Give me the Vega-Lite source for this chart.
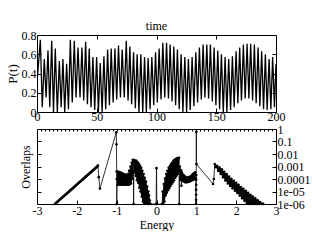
{
  "$schema": "https://vega.github.io/schema/vega-lite/v6.json",
  "background": "white",
  "padding": {"left": 5, "top": 19, "right": 0, "bottom": 0},
  "spacing": -1,
  "config": {
    "font": "Liberation Serif",
    "view": {"stroke": "black", "strokeWidth": 1},
    "axis": {"domain": false, "grid": false, "labelFlush": false, "labelFont": "Liberation Serif", "titleFont": "Liberation Serif", "labelFontSize": 12, "titleFontSize": 12, "titleFontWeight": "normal", "labelColor": "black", "titleColor": "black", "tickColor": "black", "tickSize": -4, "labelPadding": 5}
  },
  "datasets": {
    "pt": [
      {"t":0,"p":0.30},{"t":2.8,"p":0.75},{"t":4.4,"p":0.05},{"t":6.1,"p":0.55},{"t":7.6,"p":0.15},{"t":9.2,"p":0.64},{"t":10.7,"p":0.05},{"t":12.3,"p":0.74},{"t":13.8,"p":0.0},{"t":15.3,"p":0.66},{"t":17.0,"p":0.0},{"t":18.7,"p":0.53},{"t":20.2,"p":0.05},{"t":21.7,"p":0.55},{"t":23.2,"p":0.0},{"t":24.8,"p":0.50},{"t":26.3,"p":0.03},{"t":27.9,"p":0.75},{"t":29.5,"p":0.10},{"t":31.2,"p":0.74},{"t":32.7,"p":0.15},{"t":34.3,"p":0.67},{"t":36.0,"p":0.15},{"t":37.6,"p":0.67},{"t":39.1,"p":0.12},{"t":40.7,"p":0.73},{"t":42.2,"p":0.08},{"t":43.7,"p":0.66},{"t":45.2,"p":0.05},{"t":46.8,"p":0.57},{"t":48.3,"p":0.02},{"t":49.9,"p":0.57},{"t":51.4,"p":0.0},{"t":52.9,"p":0.51},{"t":54.5,"p":0.0},{"t":56.0,"p":0.58},{"t":57.5,"p":0.03},{"t":59.1,"p":0.65},{"t":60.6,"p":0.07},{"t":62.1,"p":0.66},{"t":63.7,"p":0.10},{"t":65.2,"p":0.66},{"t":66.7,"p":0.13},{"t":68.2,"p":0.69},{"t":69.8,"p":0.15},{"t":71.3,"p":0.65},{"t":73.0,"p":0.15},{"t":74.7,"p":0.74},{"t":76.2,"p":0.12},{"t":77.7,"p":0.68},{"t":79.2,"p":0.08},{"t":80.8,"p":0.62},{"t":82.3,"p":0.04},{"t":83.8,"p":0.60},{"t":85.3,"p":0.0},{"t":86.9,"p":0.60},{"t":88.5,"p":0.0},{"t":90.0,"p":0.57},{"t":91.5,"p":0.0},{"t":93.0,"p":0.56},{"t":94.6,"p":0.03},{"t":96.1,"p":0.57},{"t":97.7,"p":0.07},{"t":99.2,"p":0.62},{"t":100.7,"p":0.10},{"t":102.2,"p":0.66},{"t":103.8,"p":0.13},{"t":105.3,"p":0.72},{"t":106.9,"p":0.15},{"t":108.4,"p":0.72},{"t":110.0,"p":0.14},{"t":111.4,"p":0.70},{"t":113.0,"p":0.11},{"t":114.5,"p":0.68},{"t":116.0,"p":0.07},{"t":117.5,"p":0.65},{"t":119.0,"p":0.03},{"t":120.6,"p":0.60},{"t":122.1,"p":0.0},{"t":123.7,"p":0.57},{"t":125.2,"p":0.0},{"t":126.7,"p":0.55},{"t":128.2,"p":0.02},{"t":129.8,"p":0.57},{"t":131.3,"p":0.06},{"t":132.9,"p":0.62},{"t":134.4,"p":0.10},{"t":135.9,"p":0.67},{"t":137.5,"p":0.13},{"t":139.0,"p":0.70},{"t":140.5,"p":0.15},{"t":142.1,"p":0.70},{"t":143.6,"p":0.14},{"t":145.1,"p":0.70},{"t":146.7,"p":0.11},{"t":148.2,"p":0.67},{"t":149.7,"p":0.07},{"t":151.3,"p":0.64},{"t":152.8,"p":0.03},{"t":154.3,"p":0.60},{"t":155.9,"p":0.0},{"t":157.4,"p":0.57},{"t":158.9,"p":0.0},{"t":160.4,"p":0.55},{"t":162.0,"p":0.02},{"t":163.5,"p":0.58},{"t":165.0,"p":0.05},{"t":166.6,"p":0.63},{"t":168.1,"p":0.09},{"t":169.6,"p":0.67},{"t":171.1,"p":0.12},{"t":172.7,"p":0.70},{"t":174.2,"p":0.14},{"t":175.8,"p":0.71},{"t":177.3,"p":0.14},{"t":178.8,"p":0.71},{"t":180.4,"p":0.12},{"t":181.9,"p":0.70},{"t":183.4,"p":0.09},{"t":185.0,"p":0.67},{"t":186.5,"p":0.06},{"t":188.0,"p":0.63},{"t":189.6,"p":0.03},{"t":191.1,"p":0.60},{"t":192.6,"p":0.02},{"t":194.2,"p":0.55},{"t":195.7,"p":0.03},{"t":197.2,"p":0.57},{"t":198.7,"p":0.05},{"t":200,"p":0.50}
    ],
    "band": [
      {"g":"A","E":-2.55,"hi":1.32e-6,"lo":1e-6},{"g":"A","E":-2.2,"hi":1.28e-5,"lo":7.4e-6},{"g":"A","E":-1.85,"hi":1.24e-4,"lo":7.1e-5},{"g":"A","E":-1.5,"hi":1.2e-3,"lo":6.9e-4},{"g":"A","E":-1.47,"hi":1.5e-3,"lo":9.1e-4},
      {"g":"B","E":-0.985,"hi":4.0e-4,"lo":3.5e-5},{"g":"B","E":-0.9,"hi":3.2e-4,"lo":3.5e-5},{"g":"B","E":-0.8,"hi":2.4e-4,"lo":3.5e-5},{"g":"B","E":-0.745,"hi":2.1e-4,"lo":3.5e-5},{"g":"B","E":-0.7,"hi":3.0e-4,"lo":3.5e-5},{"g":"B","E":-0.655,"hi":1.0e-3,"lo":4.0e-5},{"g":"B","E":-0.625,"hi":2.0e-3,"lo":6e-5},{"g":"B","E":-0.595,"hi":3.4e-3,"lo":2e-4},{"g":"B","E":-0.575,"hi":3.2e-3,"lo":4e-4},
      {"g":"C","E":-0.565,"hi":3.2e-3,"lo":5e-4},{"g":"C","E":-0.505,"hi":2.8e-3,"lo":1.3e-4},{"g":"C","E":-0.445,"hi":1.66e-3,"lo":3e-5},{"g":"C","E":-0.385,"hi":7.9e-4,"lo":5e-6},{"g":"C","E":-0.325,"hi":2.5e-4,"lo":1e-6},{"g":"C","E":-0.265,"hi":6.3e-5,"lo":1e-6},{"g":"C","E":-0.205,"hi":1e-5,"lo":1e-6},{"g":"C","E":-0.15,"hi":1e-6,"lo":1e-6},
      {"g":"D","E":0.14,"hi":1e-6,"lo":1e-6},{"g":"D","E":0.185,"hi":4e-5,"lo":1e-6},{"g":"D","E":0.245,"hi":2.5e-4,"lo":6e-6},{"g":"D","E":0.305,"hi":7.9e-4,"lo":1.5e-5},{"g":"D","E":0.365,"hi":1.6e-3,"lo":3.5e-5},{"g":"D","E":0.425,"hi":2.8e-3,"lo":6.5e-5},{"g":"D","E":0.485,"hi":4.0e-3,"lo":1.5e-4},{"g":"D","E":0.545,"hi":4.8e-3,"lo":3.2e-4},{"g":"D","E":0.565,"hi":5.0e-3,"lo":4.0e-4},
      {"g":"E","E":0.585,"hi":1.0e-3,"lo":8.7e-5},{"g":"E","E":0.64,"hi":3.2e-4,"lo":7e-5},{"g":"E","E":0.73,"hi":1.4e-4,"lo":5.6e-5},{"g":"E","E":0.82,"hi":1.4e-4,"lo":6.2e-5},{"g":"E","E":0.91,"hi":2.4e-4,"lo":8.5e-5},{"g":"E","E":0.97,"hi":3.5e-4,"lo":1.1e-4},
      {"g":"F","E":1.46,"hi":1.55e-3,"lo":1.26e-3},{"g":"F","E":1.53,"hi":1.1e-3,"lo":5.4e-4},{"g":"F","E":1.61,"hi":7.4e-4,"lo":2.45e-4},{"g":"F","E":1.78,"hi":2.1e-4,"lo":4.7e-5},{"g":"F","E":1.86,"hi":1.17e-4,"lo":2.6e-5},{"g":"F","E":2.03,"hi":4.2e-5,"lo":7.6e-6},{"g":"F","E":2.11,"hi":2.5e-5,"lo":4.0e-6},{"g":"F","E":2.28,"hi":8.9e-6,"lo":1e-6},{"g":"F","E":2.36,"hi":5.5e-6,"lo":1e-6},{"g":"F","E":2.61,"hi":1.35e-6,"lo":1e-6},{"g":"F","E":2.68,"hi":1e-6,"lo":1e-6}
    ],
    "ov": [
      {"E":-2.55,"ov":1.0e-6},{"E":-2.525,"ov":1.17e-6},{"E":-2.5,"ov":1.38e-6},{"E":-2.475,"ov":1.63e-6},{"E":-2.45,"ov":1.91e-6},{"E":-2.425,"ov":2.25e-6},{"E":-2.4,"ov":2.65e-6},{"E":-2.375,"ov":3.1e-6},{"E":-2.35,"ov":3.66e-6},{"E":-2.325,"ov":4.3e-6},{"E":-2.3,"ov":5.1e-6},{"E":-2.275,"ov":5.97e-6},{"E":-2.25,"ov":7.0e-6},{"E":-2.225,"ov":8.25e-6},{"E":-2.2,"ov":9.7e-6},{"E":-2.175,"ov":1.14e-5},{"E":-2.15,"ov":1.34e-5},{"E":-2.125,"ov":1.58e-5},{"E":-2.1,"ov":1.86e-5},{"E":-2.075,"ov":2.19e-5},{"E":-2.05,"ov":2.57e-5},{"E":-2.025,"ov":3.0e-5},{"E":-2.0,"ov":3.56e-5},{"E":-1.975,"ov":4.2e-5},{"E":-1.95,"ov":4.9e-5},{"E":-1.925,"ov":5.8e-5},{"E":-1.9,"ov":6.8e-5},{"E":-1.875,"ov":8.0e-5},{"E":-1.85,"ov":9.4e-5},{"E":-1.825,"ov":1.1e-4},{"E":-1.8,"ov":1.3e-4},{"E":-1.775,"ov":1.53e-4},{"E":-1.75,"ov":1.8e-4},{"E":-1.725,"ov":2.12e-4},{"E":-1.7,"ov":2.5e-4},{"E":-1.675,"ov":2.93e-4},{"E":-1.65,"ov":3.45e-4},{"E":-1.625,"ov":4.06e-4},{"E":-1.6,"ov":4.77e-4},{"E":-1.575,"ov":5.6e-4},{"E":-1.55,"ov":6.6e-4},{"E":-1.525,"ov":7.8e-4},{"E":-1.5,"ov":9.1e-4},{"E":-1.485,"ov":1.0e-3},{"E":-1.47,"ov":1.2e-3},{"E":-1.45,"ov":1.4e-4},{"E":-1.42,"ov":1.7e-5},
      {"E":-1.01,"ov":0.54},{"E":-1.005,"ov":0.06},{"E":-1.0,"ov":4e-4},{"E":-0.999,"ov":1e-4},{"E":-0.998,"ov":1e-6},
      {"E":-0.985,"ov":4.0e-4},{"E":-0.97,"ov":3.5e-5},{"E":-0.955,"ov":3.8e-4},{"E":-0.94,"ov":3.5e-5},{"E":-0.925,"ov":3.5e-4},{"E":-0.91,"ov":3.5e-5},{"E":-0.895,"ov":3.2e-4},{"E":-0.88,"ov":3.5e-5},{"E":-0.865,"ov":2.9e-4},{"E":-0.85,"ov":3.5e-5},{"E":-0.835,"ov":2.6e-4},{"E":-0.82,"ov":3.5e-5},{"E":-0.805,"ov":2.4e-4},{"E":-0.79,"ov":3.5e-5},{"E":-0.775,"ov":2.2e-4},{"E":-0.76,"ov":3.5e-5},{"E":-0.745,"ov":2.1e-4},{"E":-0.73,"ov":3.5e-5},{"E":-0.715,"ov":2.5e-4},{"E":-0.7,"ov":3.5e-5},{"E":-0.685,"ov":4.5e-4},{"E":-0.67,"ov":3.8e-5},{"E":-0.655,"ov":1.0e-3},{"E":-0.64,"ov":4.5e-5},{"E":-0.625,"ov":2.0e-3},{"E":-0.61,"ov":1.0e-4},{"E":-0.595,"ov":3.4e-3},{"E":-0.58,"ov":3.0e-4},{"E":-0.575,"ov":1e-6},
      {"E":-0.565,"ov":3.2e-3},{"E":-0.55,"ov":4.0e-4},{"E":-0.535,"ov":3.0e-3},{"E":-0.52,"ov":1.8e-4},{"E":-0.505,"ov":2.8e-3},{"E":-0.49,"ov":7.9e-5},{"E":-0.475,"ov":2.2e-3},{"E":-0.46,"ov":5.0e-5},{"E":-0.445,"ov":1.66e-3},{"E":-0.43,"ov":2.0e-5},{"E":-0.415,"ov":1.2e-3},{"E":-0.4,"ov":1.0e-5},{"E":-0.385,"ov":7.9e-4},{"E":-0.37,"ov":4.0e-6},{"E":-0.355,"ov":4.5e-4},{"E":-0.34,"ov":1.6e-6},{"E":-0.325,"ov":2.5e-4},{"E":-0.31,"ov":1e-6},{"E":-0.295,"ov":1.26e-4},{"E":-0.28,"ov":2.5e-6},{"E":-0.265,"ov":6.3e-5},{"E":-0.25,"ov":1.26e-6},{"E":-0.235,"ov":2.5e-5},{"E":-0.22,"ov":1e-6},{"E":-0.205,"ov":1.0e-5},{"E":-0.19,"ov":5.0e-6},{"E":-0.17,"ov":2.0e-6},{"E":-0.15,"ov":1e-6},
      {"E":-0.01,"ov":1e-6},{"E":0.0,"ov":7.4e-4},{"E":0.01,"ov":1e-6},
      {"E":0.14,"ov":1e-6},{"E":0.155,"ov":1.0e-5},{"E":0.17,"ov":1e-6},{"E":0.185,"ov":4.0e-5},{"E":0.2,"ov":1.6e-6},{"E":0.215,"ov":1.1e-4},{"E":0.23,"ov":5.0e-6},{"E":0.245,"ov":2.5e-4},{"E":0.26,"ov":7.9e-6},{"E":0.275,"ov":4.5e-4},{"E":0.29,"ov":1.26e-5},{"E":0.305,"ov":7.9e-4},{"E":0.32,"ov":1.86e-5},{"E":0.335,"ov":1.1e-3},{"E":0.35,"ov":2.8e-5},{"E":0.365,"ov":1.6e-3},{"E":0.38,"ov":4.0e-5},{"E":0.395,"ov":2.0e-3},{"E":0.41,"ov":5.6e-5},{"E":0.425,"ov":2.8e-3},{"E":0.44,"ov":7.9e-5},{"E":0.455,"ov":3.5e-3},{"E":0.47,"ov":1.26e-4},{"E":0.485,"ov":4.0e-3},{"E":0.5,"ov":1.8e-4},{"E":0.515,"ov":4.5e-3},{"E":0.53,"ov":2.5e-4},{"E":0.545,"ov":4.8e-3},{"E":0.56,"ov":4.0e-4},{"E":0.565,"ov":5.0e-3},{"E":0.57,"ov":1e-6},
      {"E":0.585,"ov":1.0e-3},{"E":0.6,"ov":8.7e-5},{"E":0.615,"ov":5.0e-4},{"E":0.626,"ov":2.9e-5},{"E":0.64,"ov":3.2e-4},{"E":0.655,"ov":7.1e-5},{"E":0.67,"ov":2.2e-4},{"E":0.685,"ov":6.3e-5},{"E":0.7,"ov":1.8e-4},{"E":0.715,"ov":5.6e-5},{"E":0.73,"ov":1.4e-4},{"E":0.745,"ov":5.6e-5},{"E":0.76,"ov":1.3e-4},{"E":0.775,"ov":5.6e-5},{"E":0.79,"ov":1.3e-4},{"E":0.805,"ov":6.0e-5},{"E":0.82,"ov":1.4e-4},{"E":0.835,"ov":6.3e-5},{"E":0.85,"ov":1.6e-4},{"E":0.865,"ov":7.1e-5},{"E":0.88,"ov":1.9e-4},{"E":0.895,"ov":7.9e-5},{"E":0.91,"ov":2.4e-4},{"E":0.925,"ov":8.9e-5},{"E":0.94,"ov":3.0e-4},{"E":0.955,"ov":1.0e-4},{"E":0.97,"ov":3.5e-4},{"E":0.985,"ov":1.26e-4},
      {"E":0.99,"ov":1e-6},{"E":0.993,"ov":2.2e-6},{"E":0.994,"ov":5.5e-6},{"E":0.995,"ov":1.4e-5},{"E":0.996,"ov":3.5e-5},{"E":0.997,"ov":8.7e-5},{"E":0.998,"ov":2.1e-4},{"E":1.0,"ov":0.6},{"E":1.002,"ov":1.55e-3},{"E":1.42,"ov":4.0e-5},{"E":1.44,"ov":1.0e-4},
      {"E":1.46,"ov":1.55e-3},{"E":1.49,"ov":8.7e-4},{"E":1.52,"ov":1.15e-3},{"E":1.55,"ov":4.5e-4},{"E":1.58,"ov":8.5e-4},{"E":1.61,"ov":2.5e-4},{"E":1.64,"ov":5.9e-4},{"E":1.67,"ov":1.38e-4},{"E":1.7,"ov":3.8e-4},{"E":1.73,"ov":7.6e-5},{"E":1.76,"ov":2.45e-4},{"E":1.79,"ov":4.4e-5},{"E":1.82,"ov":1.58e-4},{"E":1.85,"ov":2.8e-5},{"E":1.88,"ov":1.05e-4},{"E":1.91,"ov":1.8e-5},{"E":1.94,"ov":7.2e-5},{"E":1.97,"ov":1.17e-5},{"E":2.0,"ov":4.9e-5},{"E":2.03,"ov":7.6e-6},{"E":2.06,"ov":3.4e-5},{"E":2.09,"ov":4.7e-6},{"E":2.12,"ov":2.3e-5},{"E":2.15,"ov":2.9e-6},{"E":2.18,"ov":1.64e-5},{"E":2.21,"ov":1.8e-6},{"E":2.24,"ov":1.15e-5},{"E":2.27,"ov":1.1e-6},{"E":2.3,"ov":7.9e-6},{"E":2.33,"ov":1e-6},{"E":2.36,"ov":5.5e-6},{"E":2.4,"ov":1e-6},{"E":2.42,"ov":3.9e-6},{"E":2.46,"ov":1e-6},{"E":2.48,"ov":2.8e-6},{"E":2.52,"ov":1e-6},{"E":2.54,"ov":2.0e-6},{"E":2.58,"ov":1e-6},{"E":2.6,"ov":1.45e-6},{"E":2.64,"ov":1e-6},{"E":2.66,"ov":1.1e-6},{"E":2.68,"ov":1e-6}
    ]
  },
  "vconcat": [
    {
      "width": 239, "height": 77,
      "title": {"text": "time", "font": "Liberation Serif", "fontSize": 12, "fontWeight": "normal", "color": "black", "offset": -4},
      "data": {"name": "pt"},
      "layer": [
        {
          "mark": {"type": "line", "color": "black", "strokeWidth": 1.3, "clip": true},
          "encoding": {
            "x": {"field": "t", "type": "quantitative", "scale": {"domain": [0, 200], "nice": false},
                  "axis": {"orient": "bottom", "values": [0, 50, 100, 150, 200], "labelExpr": "'' + datum.value", "title": null, "labelPadding": 3}},
            "y": {"field": "p", "type": "quantitative", "scale": {"domain": [0, 0.8], "nice": false, "zero": false},
                  "axis": {"orient": "left", "values": [0, 0.2, 0.4, 0.6, 0.8], "labelExpr": "'' + datum.value", "title": "P(t)", "titleFontSize": 13, "titlePadding": 2}}
          }
        },
        {
          "mark": {"type": "point", "opacity": 0},
          "encoding": {
            "x": {"field": "t", "type": "quantitative", "axis": {"orient": "top", "values": [50, 100, 150], "labels": false, "title": null}},
            "y": {"field": "p", "type": "quantitative", "axis": {"orient": "right", "values": [0.2, 0.4, 0.6], "labels": false, "title": null}}
          }
        }
      ],
      "resolve": {"axis": {"x": "independent", "y": "independent"}}
    },
    {
      "width": 239, "height": 75,
      "layer": [
        {
          "data": {"name": "band"},
          "mark": {"type": "area", "color": "#111111"},
          "encoding": {
            "x": {"field": "E", "type": "quantitative", "scale": {"domain": [-3, 3], "nice": false, "zero": false}, "axis": null},
            "y": {"field": "hi", "type": "quantitative", "scale": {"type": "log", "domain": [1e-6, 1], "nice": false}, "axis": null},
            "y2": {"field": "lo"},
            "detail": {"field": "g"}
          }
        },
        {
          "data": {"name": "ov"},
          "mark": {"type": "line", "color": "black", "strokeWidth": 0.8, "point": {"filled": true, "size": 7, "color": "black"}},
          "encoding": {
            "x": {"field": "E", "type": "quantitative", "sort": null,
                  "axis": {"orient": "bottom", "values": [-3, -2, -1, 0, 1, 2, 3], "labelExpr": "'' + datum.value", "title": "Energy", "titlePadding": 3}},
            "y": {"field": "ov", "type": "quantitative",
                  "axis": {"orient": "right", "values": [1, 0.1, 0.01, 0.001, 0.0001, 0.00001, 0.000001], "labelExpr": "datum.value < 5e-5 ? (datum.value < 5e-6 ? '1e-06' : '1e-05') : '' + datum.value", "title": null}}
          }
        },
        {
          "data": {"name": "ov"},
          "mark": {"type": "point", "opacity": 0},
          "encoding": {
            "x": {"field": "E", "type": "quantitative", "axis": {"orient": "top", "values": [-2.9,-2.8,-2.7,-2.6,-2.5,-2.4,-2.3,-2.2,-2.1,-2,-1.9,-1.8,-1.7,-1.6,-1.5,-1.4,-1.3,-1.2,-1.1,-1,-0.9,-0.8,-0.7,-0.6,-0.5,-0.4,-0.3,-0.2,-0.1,0,0.1,0.2,0.3,0.4,0.5,0.6,0.7,0.8,0.9,1,1.1,1.2,1.3,1.4,1.5,1.6,1.7,1.8,1.9,2,2.1,2.2,2.3,2.4,2.5,2.6,2.7,2.8,2.9], "labels": false, "title": null, "tickSize": -2}},
            "y": {"field": "ov", "type": "quantitative", "axis": {"orient": "left", "values": [0.1, 0.01, 0.001, 0.0001, 0.00001], "labels": false, "title": "Overlaps", "titlePadding": 4}}
          }
        }
      ],
      "resolve": {"axis": {"x": "independent", "y": "independent"}}
    }
  ]
}
